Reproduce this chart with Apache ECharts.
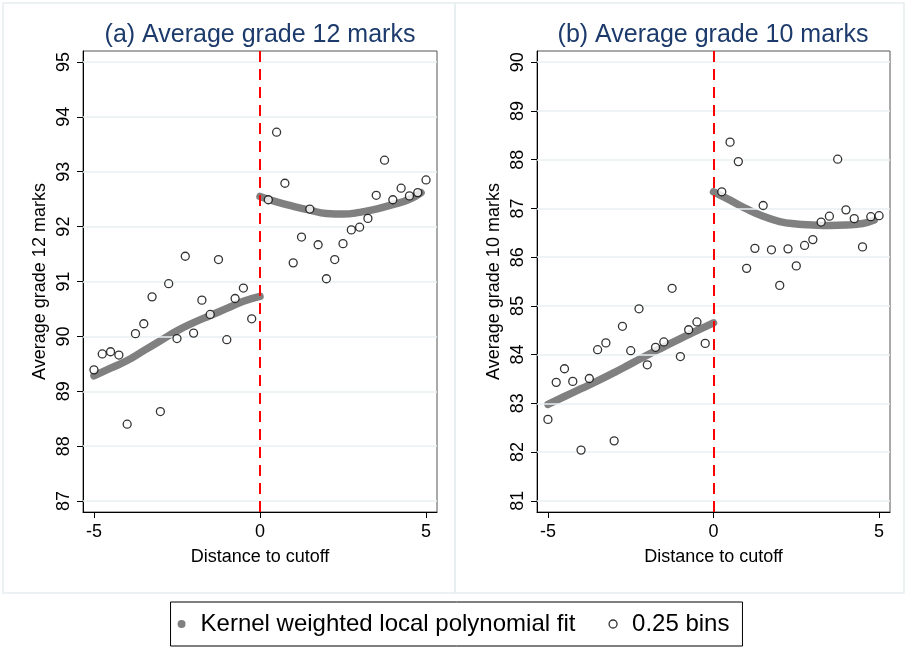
<!DOCTYPE html>
<html><head><meta charset="utf-8">
<script src="https://cdn.jsdelivr.net/npm/echarts@6/dist/echarts.min.js"></script>
<style>html,body{margin:0;padding:0;background:#fff}#c{width:907px;height:648px}</style>
</head><body><div id="c"></div>
<script>
// ---- data ----
const binXLeft  = [-5,-4.75,-4.5,-4.25,-4,-3.75,-3.5,-3.25,-3,-2.75,-2.5,-2.25,-2,-1.75,-1.5,-1.25,-1,-0.75,-0.5,-0.25];
const binXRight = [0.25,0.5,0.75,1,1.25,1.5,1.75,2,2.25,2.5,2.75,3,3.25,3.5,3.75,4,4.25,4.5,4.75,5];

const g12BinsLeft  = [89.39,89.68,89.72,89.66,88.40,90.05,90.23,90.72,88.63,90.96,89.96,91.46,90.06,90.66,90.40,91.40,89.94,90.69,90.88,90.32];
const g12BinsRight = [92.49,93.72,92.79,91.34,91.81,92.32,91.67,91.05,91.40,91.69,91.94,91.99,92.15,92.57,93.21,92.49,92.70,92.56,92.62,92.85];
const g10BinsLeft  = [82.67,83.43,83.71,83.45,82.04,83.51,84.10,84.24,82.23,84.58,84.08,84.94,83.79,84.15,84.26,85.36,83.96,84.51,84.67,84.23];
const g10BinsRight = [87.34,88.36,87.96,85.77,86.18,87.06,86.15,85.42,86.17,85.82,86.24,86.36,86.72,86.84,88.01,86.97,86.79,86.21,86.83,86.85];

const fitXLeft  = [-5,-4.5,-4,-3.5,-3,-2.5,-2,-1.5,-1,-0.5,0];
const fitXRight = [0,0.5,1,1.5,2,2.5,3,3.5,4,4.5,4.85];
const g12FitLeft  = [89.28,89.42,89.56,89.74,89.92,90.10,90.25,90.38,90.51,90.64,90.73];
const g12FitRight = [92.55,92.45,92.37,92.30,92.24,92.23,92.26,92.32,92.40,92.50,92.62];
const g10FitLeft  = [82.98,83.14,83.30,83.46,83.63,83.81,83.99,84.16,84.33,84.49,84.65];
const g10FitRight = [87.34,87.17,86.99,86.84,86.73,86.68,86.66,86.65,86.66,86.69,86.76];

const xTicks   = [-5,0,5];
const y12Ticks = [87,88,89,90,91,92,93,94,95];
const y10Ticks = [81,82,83,84,85,86,87,88,89,90];

const titles = ['(a) Average grade 12 marks','(b) Average grade 10 marks'];
const yNames = ['Average grade 12 marks','Average grade 10 marks'];
const xName = 'Distance to cutoff';
const fitName = 'Kernel weighted local polynomial fit';
const binName = '0.25 bins';

// ---- chart ----
const FF = '"Liberation Sans", Arial, sans-serif';
const zip = (xs, ys) => xs.map((x, i) => [x, ys[i]]);

function xAxis(gi) {
  return {
    type:'value', gridIndex:gi, min:-5.33, max:5.33,
    axisLine:{show:true,onZero:false,lineStyle:{color:'#000',width:1}},
    axisTick:{show:true,length:6,customValues:xTicks,lineStyle:{color:'#000',width:1}},
    axisLabel:{customValues:xTicks,fontSize:18,color:'#000',margin:11,fontFamily:FF},
    splitLine:{show:false},
    name:xName,nameLocation:'middle',nameGap:36,
    nameTextStyle:{fontSize:18,color:'#000',fontFamily:FF}
  };
}
function yAxis(gi, min, max, ticks, name) {
  return {
    type:'value', gridIndex:gi, min:min, max:max,
    axisLine:{show:true,onZero:false,lineStyle:{color:'#000',width:1}},
    axisTick:{show:true,length:6,customValues:ticks,lineStyle:{color:'#000',width:1}},
    axisLabel:{customValues:ticks,fontSize:18,color:'#000',margin:10,rotate:90,fontFamily:FF},
    splitLine:{show:false},
    name:name,nameLocation:'middle',nameGap:34,nameRotate:90,
    nameTextStyle:{fontSize:18,color:'#000',fontFamily:FF}
  };
}
function gridLines(gi, ticks) {
  return {
    type:'line', xAxisIndex:gi, yAxisIndex:gi, data:[], z:1, silent:true,
    markLine:{silent:true,symbol:'none',label:{show:false},
      lineStyle:{color:'#e9f0f2',width:1.5,type:'solid'},
      data:ticks.map(v=>({yAxis:v}))}
  };
}
function cutoff(gi) {
  return {
    type:'line', xAxisIndex:gi, yAxisIndex:gi, data:[], z:3, silent:true,
    markLine:{silent:true,symbol:'none',label:{show:false},
      lineStyle:{color:'#ff0000',width:2,type:[11,7]},
      data:[{xAxis:0}]}
  };
}
function fit(gi, xs, ys) {
  return {
    type:'line', name:fitName, xAxisIndex:gi, yAxisIndex:gi, z:4,
    data:zip(xs, ys), smooth:true, showSymbol:false, symbol:'circle',
    color:'#808080', lineStyle:{color:'#808080',width:7.5,cap:'round'}
  };
}
function bins(gi, xs, ys) {
  return {
    type:'scatter', name:binName, xAxisIndex:gi, yAxisIndex:gi, z:5,
    data:zip(xs, ys), symbol:'circle', symbolSize:8,
    itemStyle:{color:'#fff',borderColor:'#000',borderWidth:1.3}
  };
}

const chart = echarts.init(document.getElementById('c'), null, {renderer:'canvas'});
chart.setOption({
  backgroundColor:'#fff',
  animation:false,
  textStyle:{fontFamily:FF},
  graphic:[
    {type:'rect',shape:{x:3,y:3,width:452,height:590},style:{fill:'none',stroke:'#e6eef0',lineWidth:1.5},silent:true,z:-10},
    {type:'rect',shape:{x:455,y:3,width:449,height:590},style:{fill:'none',stroke:'#e6eef0',lineWidth:1.5},silent:true,z:-10}
  ],
  title:[
    {text:titles[0],left:255,top:18,textAlign:'center',textStyle:{fontSize:25,fontWeight:'normal',color:'#1c3a6b',fontFamily:FF}},
    {text:titles[1],left:708,top:18,textAlign:'center',textStyle:{fontSize:25,fontWeight:'normal',color:'#1c3a6b',fontFamily:FF}}
  ],
  legend:{
    left:'center', top:602, orient:'horizontal', selectedMode:false,
    itemWidth:14, itemHeight:8, itemGap:33, padding:[10,13,10,7],
    borderColor:'#000', borderWidth:1, backgroundColor:'#fff',
    textStyle:{fontSize:24,color:'#000',fontFamily:FF,padding:[0,0,0,7]},
    data:[
      {name:fitName,icon:'circle',itemStyle:{color:'#808080',borderWidth:0}},
      {name:binName,icon:'circle',itemStyle:{color:'#fff',borderColor:'#000',borderWidth:1.3}}
    ]
  },
  grid:[
    {left:83,top:51,width:354,height:461,show:true,borderColor:'#555',borderWidth:1,backgroundColor:'#fff'},
    {left:537,top:51,width:353,height:461,show:true,borderColor:'#555',borderWidth:1,backgroundColor:'#fff'}
  ],
  xAxis:[xAxis(0), xAxis(1)],
  yAxis:[yAxis(0,86.8,95.2,y12Ticks,yNames[0]), yAxis(1,80.77,90.23,y10Ticks,yNames[1])],
  series:[
    gridLines(0,y12Ticks), gridLines(1,y10Ticks),
    cutoff(0), cutoff(1),
    fit(0,fitXLeft,g12FitLeft), fit(0,fitXRight,g12FitRight),
    fit(1,fitXLeft,g10FitLeft), fit(1,fitXRight,g10FitRight),
    bins(0,binXLeft,g12BinsLeft), bins(0,binXRight,g12BinsRight),
    bins(1,binXLeft,g10BinsLeft), bins(1,binXRight,g10BinsRight)
  ]
});
</script></body></html>
